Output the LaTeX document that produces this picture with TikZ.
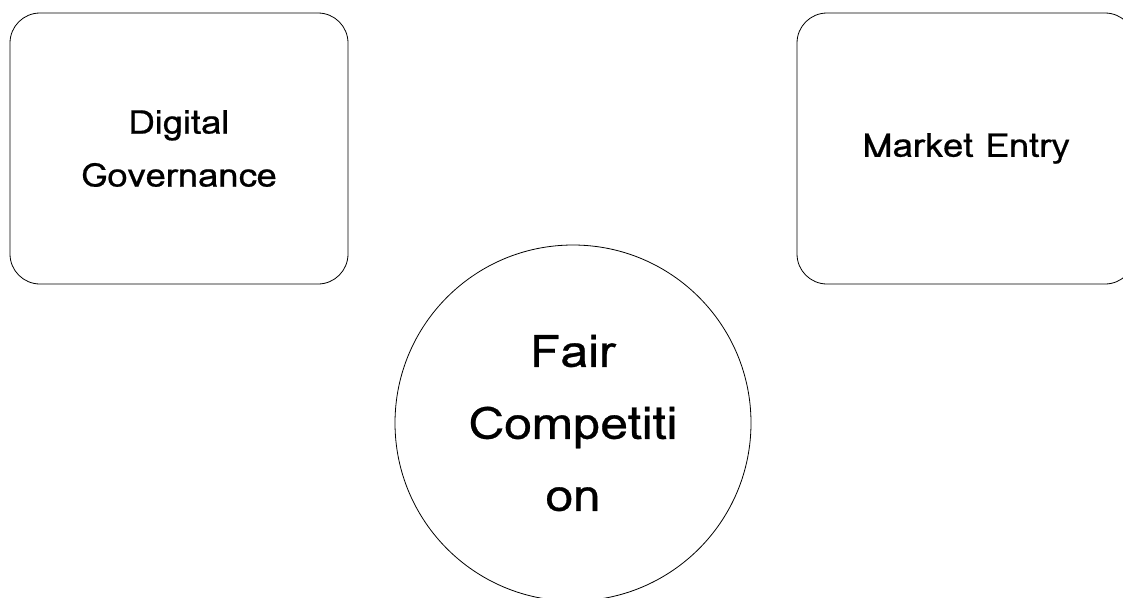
\documentclass[tikz,border=0pt]{standalone}
\usepackage{fontspec}
\setmainfont{Loma}[FakeStretch=1.1,FakeBold=0.6]
\begin{document}
\begin{tikzpicture}[x=1pt,y=-1pt,
  topic/.style={draw=black,line width=0.8pt,rounded corners=30pt,minimum width=338pt,minimum height=271pt,align=center,inner sep=0pt,font=\fontsize{33}{53}\selectfont},
  hub/.style={draw=black,line width=0.8pt,circle,minimum size=356pt,align=center,inner sep=0pt,font=\fontsize{45}{72}\selectfont}]
  \useasboundingbox (0,0) rectangle (1123,597);
  \clip (0,0) rectangle (1123,597);
  \node[topic] (gov) at (179,148.5) {Digital\\Governance};
  \node[topic] (entry) at (966,148.5) {Market Entry};
  \node[hub] (fair) at (573,423) {Fair\\Competiti\\on};
\end{tikzpicture}
\end{document}
